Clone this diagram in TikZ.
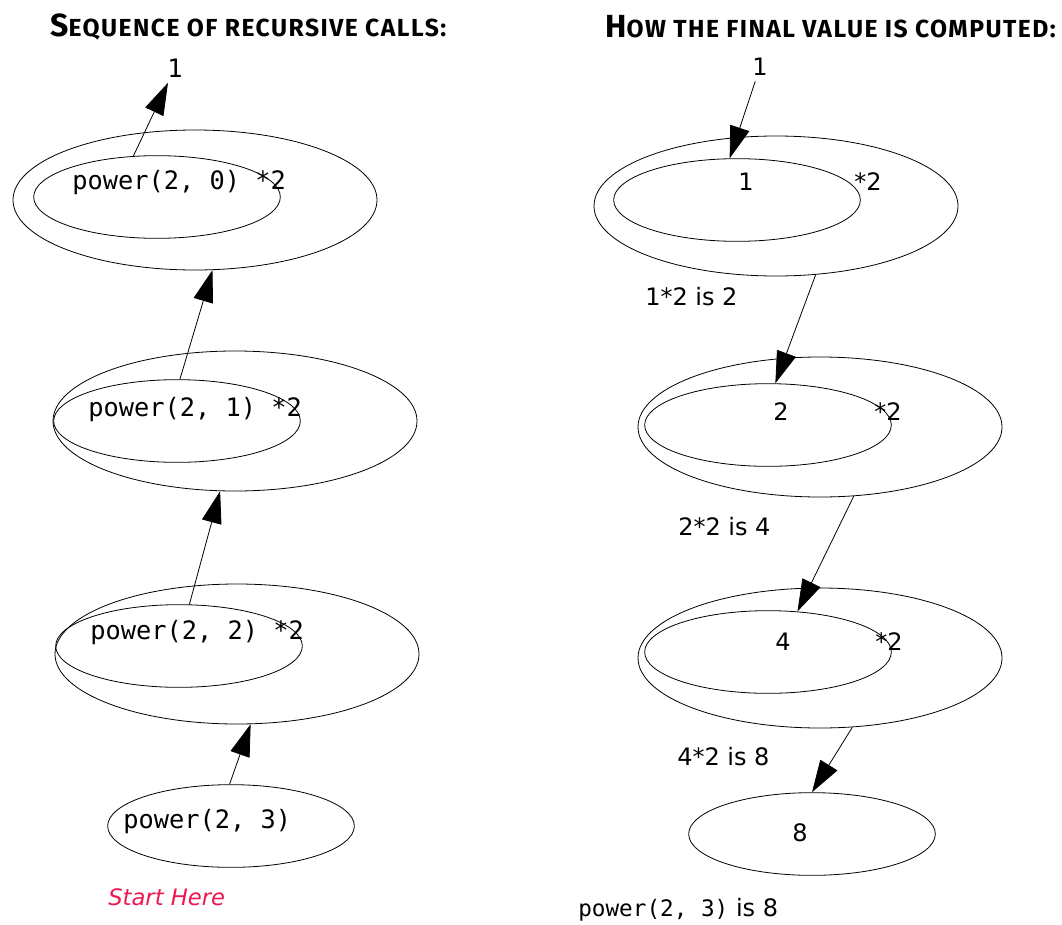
\documentclass[tikz,border=0pt]{standalone}
\usepackage{fontspec}
\setmainfont{DejaVu Sans}
\setmonofont{DejaVu Sans Mono}
\newfontfamily\headfont{Fira Sans}[LetterSpace=6]
\usepackage{xcolor}
\usetikzlibrary{arrows.meta,shapes.geometric}
\definecolor{startred}{RGB}{235,25,80}
\newcommand{\fakesc}[2]{{\fontsize{24}{27}\selectfont #1}{\fontsize{18.5}{21}\selectfont #2}}

\begin{document}
\begin{tikzpicture}[
    x=0.75pt, y=-0.75pt,
    ring/.style={ellipse, draw, line width=0.6pt, minimum width=273pt, minimum height=105pt, inner sep=0pt},
    core/.style={ellipse, draw, line width=0.6pt, minimum width=185pt, minimum height=62pt, inner sep=0pt},
    code/.style={anchor=west, inner sep=0pt, font=\ttfamily\fontsize{19}{22}\selectfont},
    note/.style={anchor=west, inner sep=0pt, font=\fontsize{18}{21}\selectfont},
    head/.style={anchor=west, inner sep=0pt, font=\headfont\bfseries},
    val/.style={inner sep=4pt, font=\fontsize{18}{21}\selectfont},
    arr/.style={-{Triangle[length=24pt, width=15pt]}, line width=0.6pt},
]
\useasboundingbox (0,0) rectangle (1062,924);

% Titles
\node[head] (lhead) at (50,27) {\fakesc{S}{EQUENCE OF RECURSIVE CALLS:}};
\node[head] (rhead) at (605,27) {\fakesc{H}{OW THE FINAL VALUE IS COMPUTED:}};

% Left column: the calls
\node[val, font=\ttfamily\fontsize{19}{22}\selectfont] (lone) at (175,68) {1};

\node[ring] (out0) at (195,200) {};
\node[core] (in0) at (157,197) {};
\node[code] (c0) at (72,183) {power(2, 0) *2};

\node[ring] (out1) at (235,421) {};
\node[core] (in1) at (177,421) {};
\node[code] (c1) at (88,410) {power(2, 1) *2};

\node[ring] (out2) at (237,654) {};
\node[core] (in2) at (179,646) {};
\node[code] (c2) at (90,633) {power(2, 2) *2};

\node[core] (call3) at (231,826) {};
\node[code] (c3) at (123,822) {power(2, 3)};

\node[note, font=\itshape\fontsize{17}{20}\selectfont, text=startred] (start) at (108,897) {Start Here};

% Right column: the values
\node[val] (rone) at (760,67) {1};

\node[ring] (rout0) at (776,206) {};
\node[core] (rin0) at (737,200) {};
\node[val] (v0) at (746,182) {1};
\node[val] (m0) at (868,182) {*2};
\node[note] (s0) at (645,297) {1*2 is 2};

\node[ring] (rout1) at (820,427) {};
\node[core] (rin1) at (768,425) {};
\node[val] (v1) at (781,412) {2};
\node[val] (m1) at (888,412) {*2};
\node[note] (s1) at (678,527) {2*2 is 4};

\node[ring] (rout2) at (820,658) {};
\node[core] (rin2) at (768,652) {};
\node[val] (v2) at (783,642) {4};
\node[val] (m2) at (889,642) {*2};
\node[note] (s2) at (677,757) {4*2 is 8};

\node[core] (res) at (812,834) {};
\node[val] (v3) at (800,833) {8};

\node[note] (fin) at (578,910) {\ttfamily\fontsize{17}{20}\selectfont power(2, 3)\rmfamily\fontsize{18}{21}\selectfont{} is 8};

% Arrows
\draw[arr] (in0.120) -- (lone);
\draw[arr] (in1.86) -- (out0.-76);
\draw[arr] (in2.76) -- (out1.-102);
\draw[arr] (call3.92) -- (out2.-79);

\draw[arr] (rone) -- (rin0.100);
\draw[arr] (rout0.-60) -- (rin1.80);
\draw[arr] (rout1.-64) -- (rin2.54);
\draw[arr] (rout2.-65) -- (res.north);
\end{tikzpicture}
\end{document}
